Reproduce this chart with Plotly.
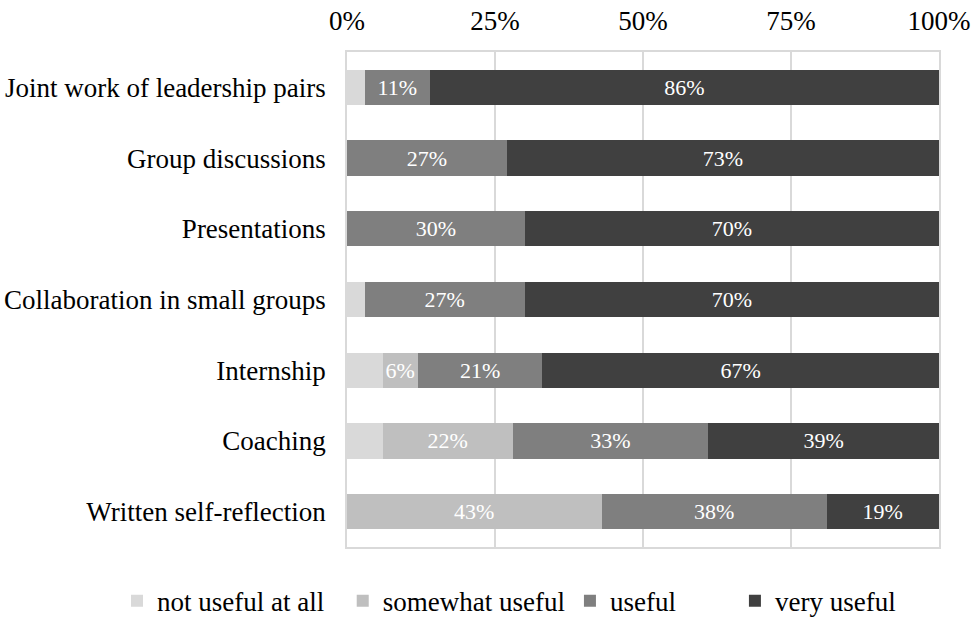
import plotly.graph_objects as go

categories = ["Joint work of leadership pairs", "Group discussions", "Presentations",
              "Collaboration in small groups", "Internship", "Coaching", "Written self-reflection"]
not_useful = [3, 0, 0, 3, 6, 6, 0]
somewhat_useful = [0, 0, 0, 0, 6, 22, 43]
useful = [11, 27, 30, 27, 21, 33, 38]
very_useful = [86, 73, 70, 70, 67, 39, 19]
tick_vals = [0, 25, 50, 75, 100]
tick_text = ["0%", "25%", "50%", "75%", "100%"]

NB = "\u00a0"
series = [
    ("not useful at all" + NB * 2, not_useful, "#d9d9d9", False),
    ("somewhat useful", somewhat_useful, "#bfbfbf", True),
    ("useful" + NB * 8, useful, "#7f7f7f", True),
    ("very useful", very_useful, "#404040", True),
]

fig = go.Figure()
for name, vals, color, show in series:
    texts = [f"{v}%" if (show and v >= 6) else "" for v in vals]
    fig.add_trace(go.Bar(
        y=categories, x=vals, name=name, orientation="h",
        marker=dict(color=color, line=dict(width=0)),
        text=texts, textposition="inside", insidetextanchor="middle",
        textangle=0, constraintext="none",
        textfont=dict(color="white", size=22, family="Liberation Serif"),
        hoverinfo="x+y",
    ))

fig.update_layout(
    barmode="stack", bargap=0.5,
    width=975, height=618,
    margin=dict(l=347, r=36, t=52, b=71, autoexpand=False),
    plot_bgcolor="white", paper_bgcolor="white",
    font=dict(family="Liberation Serif", size=27, color="#000000"),
    legend=dict(orientation="h", x=-0.3885, xanchor="left",
                y=-0.06, yanchor="top",
                font=dict(size=27), traceorder="normal", itemwidth=30),
    xaxis=dict(side="top", range=[0, 100], tickmode="array", tickvals=tick_vals,
               ticktext=tick_text, showgrid=True, gridcolor="#d9d9d9", gridwidth=1.5,
               zeroline=False, showline=True, linecolor="#d9d9d9", linewidth=1.5,
               mirror=True, ticks="", ticklabelstandoff=9, automargin=False),
    yaxis=dict(categoryorder="array", categoryarray=categories, autorange="reversed",
               showline=True, linecolor="#d9d9d9", linewidth=1.5, mirror=True,
               ticks="", ticklabelstandoff=14, automargin=False),
)

fig.write_html("out.html", config={"displayModeBar": False},
               post_script="document.body.style.margin='0';document.body.style.overflow='hidden';")
